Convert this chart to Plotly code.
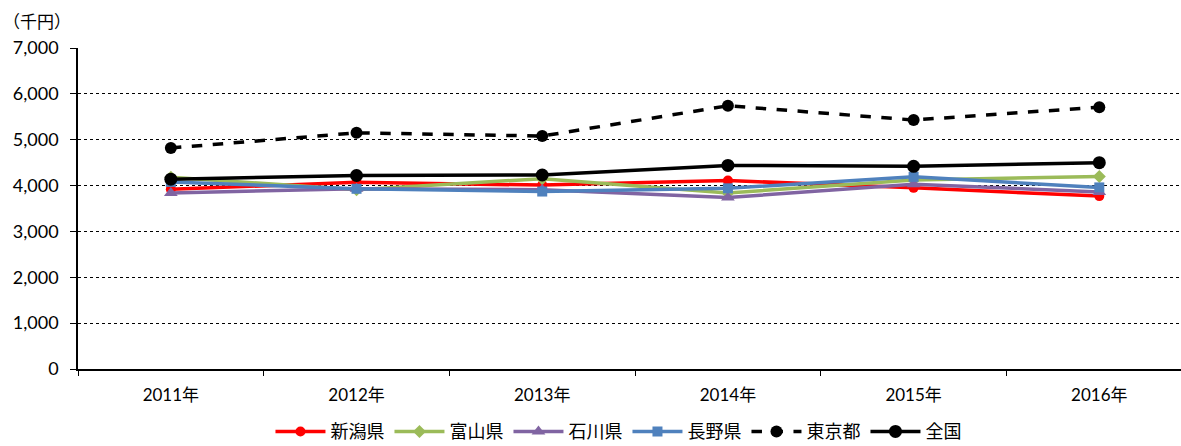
import plotly.graph_objects as go

years = ["2011年", "2012年", "2013年", "2014年", "2015年", "2016年"]
niigata = [3920, 4070, 4010, 4110, 3950, 3770]
toyama = [4180, 3910, 4150, 3840, 4120, 4200]
ishikawa = [3840, 3930, 3910, 3740, 4030, 3860]
nagano = [4080, 3930, 3870, 3940, 4190, 3960]
tokyo = [4820, 5150, 5080, 5740, 5430, 5710]
zenkoku = [4140, 4220, 4230, 4440, 4420, 4500]

y_ticks = [0, 1000, 2000, 3000, 4000, 5000, 6000, 7000]

series = [
    ("新潟県", niigata, "#FF0000", "circle", 10, "solid"),
    ("富山県", toyama, "#9BBB59", "diamond", 10, "solid"),
    ("石川県", ishikawa, "#8064A2", "triangle-up", 12, "solid"),
    ("長野県", nagano, "#4F81BD", "square", 10, "solid"),
    ("東京都", tokyo, "#000000", "circle", 12, "dash"),
    ("全国", zenkoku, "#000000", "circle", 13, "solid"),
]

fig = go.Figure()
for name, vals, color, symbol, size, dash in series:
    fig.add_trace(go.Scatter(
        x=years, y=vals, name=name, mode="lines+markers",
        line=dict(color=color, width=3.5, dash=dash),
        marker=dict(symbol=symbol, size=size, color=color),
    ))

font_family = "Lato, 'Noto Sans CJK JP', sans-serif"

fig.update_layout(
    width=1181, height=446,
    margin=dict(l=78, r=0, t=48, b=77, autoexpand=False),
    plot_bgcolor="white", paper_bgcolor="white",
    font=dict(family=font_family, size=17, color="#000000"),
    showlegend=True,
    legend=dict(
        orientation="h", x=0.49, xanchor="center",
        yref="container", y=0.032, yanchor="middle",
        font=dict(size=18), itemwidth=50, tracegroupgap=0,
    ),
    xaxis=dict(
        type="category", range=[-0.5, 5.44],
        showline=True, linecolor="#000000", linewidth=1.5,
        ticks="outside", tickson="boundaries", ticklen=5, tickcolor="#000000",
        showgrid=False, tickfont=dict(size=17), ticklabelstandoff=10,
    ),
    yaxis=dict(
        range=[0, 7000], tickvals=y_ticks, tickformat=",d",
        showline=True, linecolor="#000000", linewidth=1.5,
        ticks="outside", ticklen=6, tickcolor="#000000",
        showgrid=True, gridcolor="#000000", gridwidth=1, griddash="dot",
        zeroline=False, tickfont=dict(size=18), ticklabelstandoff=8,
    ),
    annotations=[dict(
        text="（千円）", xref="paper", yref="paper", x=-0.07, y=1.045,
        xanchor="left", yanchor="bottom", showarrow=False,
        font=dict(size=17, family=font_family),
    )],
)

fig.write_html("out.html")
